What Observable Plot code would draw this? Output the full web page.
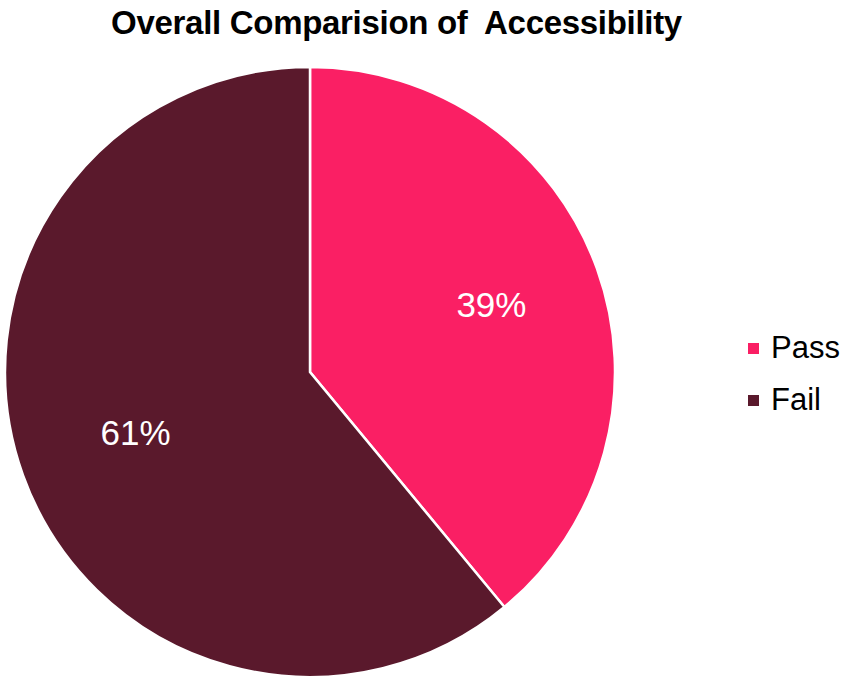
<!DOCTYPE html>
<html>
<head>
<meta charset="utf-8">
<script src="https://cdn.jsdelivr.net/npm/d3@7"></script>
<script src="https://cdn.jsdelivr.net/npm/@observablehq/plot@0.6"></script>
<style>
  html, body { margin: 0; padding: 0; background: #fff; }
  #wrap { position: relative; width: 843px; height: 680px; font-family: "Liberation Sans", Arial, sans-serif; }
  #title { position: absolute; left: 0; width: 793px; top: 4px; text-align: center; font-weight: bold; font-size: 33px; color: #000; letter-spacing: -0.3px; white-space: pre; }
  #legend { position: absolute; left: 748px; top: 322px; font-size: 31px; color: #000; }
  .item { display: flex; align-items: center; height: 52px; }
  .sw { width: 11px; height: 11px; margin-right: 12px; }
</style>
</head>
<body>
<div id="wrap">
  <div id="plot"></div>
  <div id="title"></div>
  <div id="legend"></div>
</div>
<script>
const title = "Overall Comparision of  Accessibility";
const categories = ["Pass", "Fail"];
const values = [39, 61];
const labels = ["39%", "61%"];
const colors = ["#FA1F64", "#5A192C"];

const data = categories.map((c, i) => ({category: c, value: values[i], label: labels[i], color: colors[i]}));
const arcs = d3.pie().sort(null).value(d => d.value)(data);
const labelR = 0.62;
const labelData = arcs.map(a => {
  const m = (a.startAngle + a.endAngle) / 2;
  return {label: a.data.label, x: Math.sin(m) * labelR, y: -Math.cos(m) * labelR};
});

function pieMark(index, scales) {
  const cx = scales.x(0), cy = scales.y(0);
  const r = scales.x(1) - scales.x(0);
  const g = d3.create("svg:g").attr("transform", `translate(${cx},${cy})`);
  const arc = d3.arc().innerRadius(0).outerRadius(r);
  g.selectAll("path").data(arcs).join("path")
    .attr("d", arc)
    .attr("fill", d => d.data.color)
    .attr("stroke", "#fff")
    .attr("stroke-width", 2.5)
    .attr("stroke-linejoin", "miter");
  return g.node();
}

const chart = Plot.plot({
  width: 843,
  height: 680,
  marginTop: 0, marginRight: 0, marginBottom: 0, marginLeft: 0,
  x: {domain: [-1, 1], range: [5, 615], axis: null},
  y: {domain: [-1, 1], range: [67, 677], axis: null},
  style: {background: "#fff", fontFamily: "'Liberation Sans', Arial, sans-serif"},
  marks: [
    pieMark,
    Plot.text(labelData, {x: "x", y: "y", text: "label", fill: "#fff", fontSize: 35, dx: 3, dy: -3})
  ]
});
document.getElementById("plot").appendChild(chart);
document.getElementById("title").textContent = title;
const legend = document.getElementById("legend");
categories.forEach((c, i) => {
  const it = document.createElement("div");
  it.className = "item";
  const sw = document.createElement("span");
  sw.className = "sw";
  sw.style.background = colors[i];
  const t = document.createElement("span");
  t.textContent = c;
  it.appendChild(sw); it.appendChild(t);
  legend.appendChild(it);
});
</script>
</body>
</html>
